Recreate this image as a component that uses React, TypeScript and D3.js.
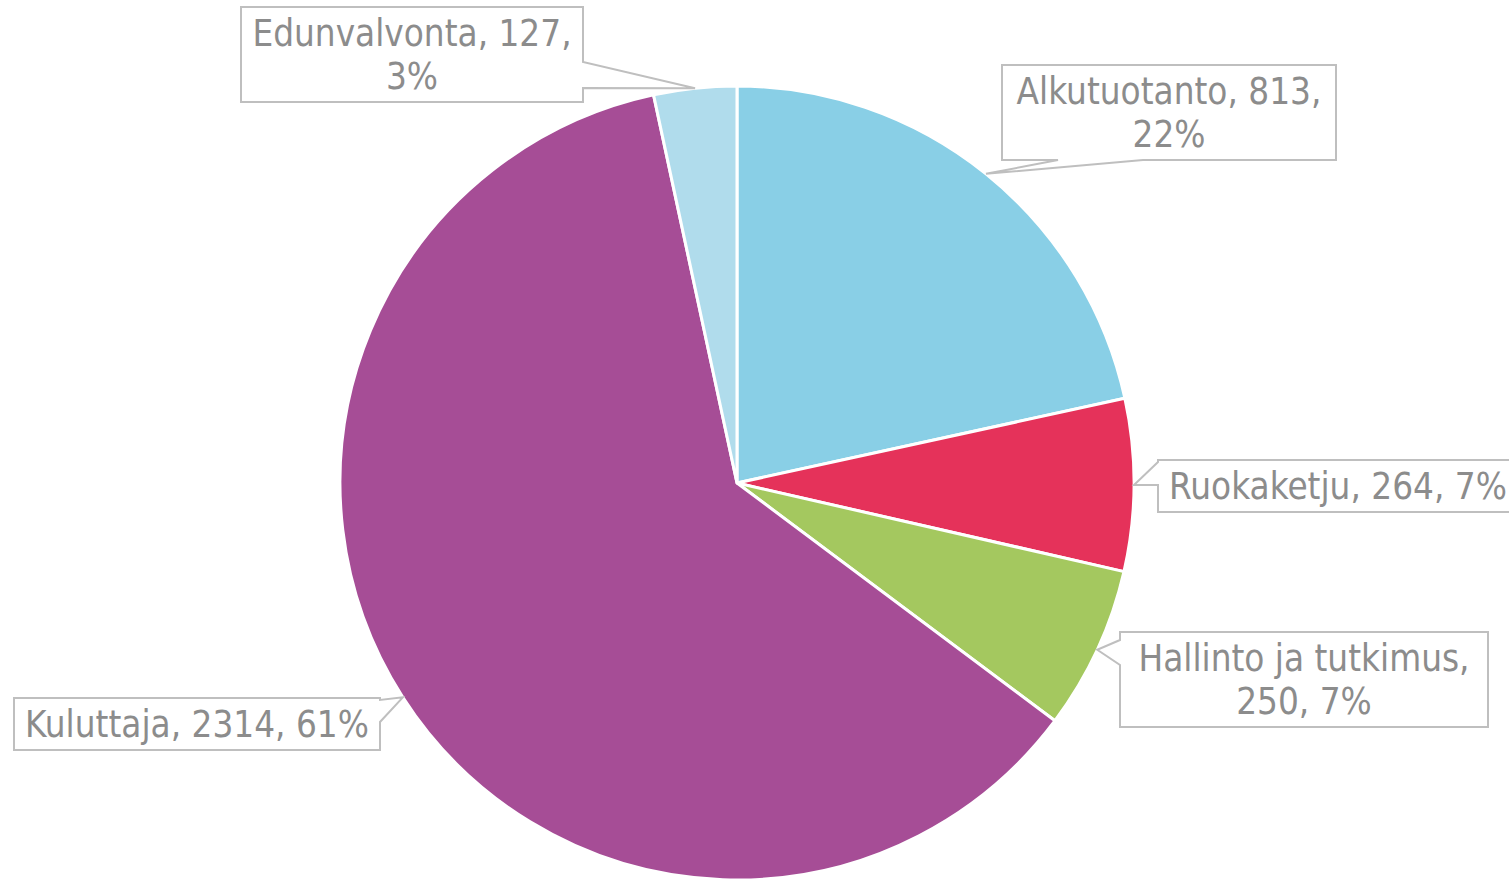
import React from "react";
import * as d3 from "d3";

const categories = ["Alkutuotanto", "Ruokaketju", "Hallinto ja tutkimus", "Kuluttaja", "Edunvalvonta"];
const values = [813, 264, 250, 2314, 127];
const percents = ["22%", "7%", "7%", "61%", "3%"];
const colors = ["#89cfe6", "#e5325a", "#a4c85f", "#a64d96", "#b0dcec"];

// label box layout (px), wedge side and base points
const labelBoxes = [
  { x: 1002, y: 65, w: 334, h: 95, side: "bottom", b1: 1058, b2: 1143, lines: ["Alkutuotanto, 813,", "22%"] },
  { x: 1158, y: 460, w: 360, h: 52, side: "left", b1: 462, b2: 485, lines: ["Ruokaketju, 264, 7%"] },
  { x: 1120, y: 632, w: 368, h: 95, side: "left", b1: 640, b2: 665, lines: ["Hallinto ja tutkimus,", "250, 7%"] },
  { x: 14, y: 698, w: 366, h: 52, side: "right", b1: 700, b2: 722, lines: ["Kuluttaja, 2314, 61%"] },
  { x: 241, y: 7, w: 342, h: 95, side: "right", b1: 62, b2: 88, lines: ["Edunvalvonta, 127,", "3%"] },
];

const width = 1509;
const height = 880;
const cx = 737;
const cy = 483;
const radius = 397;

function calloutPath(b, tip) {
  const { x, y, w, h, side, b1, b2 } = b;
  const [tx, ty] = tip;
  if (side === "left") {
    return `M${x},${y}L${x + w},${y}L${x + w},${y + h}L${x},${y + h}L${x},${b2}L${tx},${ty}L${x},${b1}Z`;
  }
  if (side === "right") {
    return `M${x},${y}L${x + w},${y}L${x + w},${b1}L${tx},${ty}L${x + w},${b2}L${x + w},${y + h}L${x},${y + h}Z`;
  }
  return `M${x},${y}L${x + w},${y}L${x + w},${y + h}L${b2},${y + h}L${tx},${ty}L${b1},${y + h}L${x},${y + h}Z`;
}

export default function App() {
  const data = categories.map((c, i) => ({ name: c, value: values[i] }));
  const pie = d3.pie<any>().value((d) => d.value).sort(null);
  const arcs = pie(data);
  const arc = d3.arc<any>().innerRadius(0).outerRadius(radius);
  const edge = d3.arc<any>().innerRadius(radius).outerRadius(radius);

  return (
    <svg
      width={width}
      height={height}
      style={{ position: "absolute", left: 0, top: 0, background: "#fff" }}
      fontFamily="'DejaVu Sans Condensed', 'DejaVu Sans', sans-serif"
    >
      <g transform={`translate(${cx},${cy})`}>
        {arcs.map((a, i) => (
          <path key={i} d={arc(a)} fill={colors[i]} stroke="#fff" strokeWidth={3} strokeLinejoin="round" />
        ))}
      </g>
      {arcs.map((a, i) => {
        const [ex, ey] = edge.centroid(a);
        const b = labelBoxes[i];
        const tip = [cx + ex, cy + ey];
        const lh = 43;
        const mid = b.y + b.h / 2;
        const first = mid - ((b.lines.length - 1) * lh) / 2;
        return (
          <g key={i}>
            <path d={calloutPath(b, tip)} fill="#fff" stroke="#bfbfbf" strokeWidth={2} />
            {b.lines.map((t, j) => (
              <text
                key={j}
                x={b.x + b.w / 2}
                y={first + j * lh}
                dy="0.36em"
                textAnchor="middle"
                fontSize={36.5}
                fill="#8c8c8c"
              >
                {t}
              </text>
            ))}
          </g>
        );
      })}
    </svg>
  );
}
